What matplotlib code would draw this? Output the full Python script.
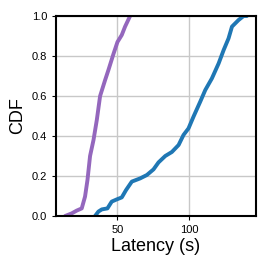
import matplotlib
matplotlib.use("Agg")
import matplotlib.pyplot as plt

plt.rcParams['font.family'] = ['Liberation Sans', 'DejaVu Sans']

purple_x = [13.5, 18.1, 21.6, 25.1, 27.4, 29.1, 30.9, 33.3, 35.6, 37.9, 41.4, 43.7, 47.2, 50.0, 53.0, 55.3, 58.8]
purple_y = [0.0, 0.013, 0.027, 0.038, 0.097, 0.18, 0.30, 0.38, 0.48, 0.60, 0.68, 0.73, 0.81, 0.87, 0.905, 0.947, 1.0]

blue_x = [34.4, 36.7, 39.1, 43.0, 46.0, 49.5, 53.0, 56.0, 60.0, 65.8, 70.5, 75.1, 78.6, 83.3, 87.9, 92.6, 96.0,
          99.5, 103.0, 107.7, 111.2, 115.8, 120.5, 124.0, 127.4, 129.8, 134.4, 137.9, 140.2]
blue_y = [0.0, 0.022, 0.033, 0.038, 0.072, 0.083, 0.093, 0.13, 0.172, 0.188, 0.205, 0.233, 0.268, 0.30, 0.32,
          0.355, 0.405, 0.438, 0.497, 0.572, 0.63, 0.688, 0.763, 0.83, 0.888, 0.947, 0.98, 1.0, 1.0]

fig = plt.figure(figsize=(2.68, 2.68), dpi=100)
ax = fig.add_axes([56/268, 52/268, 200/268, 200/268])
ax.plot(purple_x, purple_y, color='#9467bd', lw=2.8, solid_capstyle='round')
ax.plot(blue_x, blue_y, color='#1f77b4', lw=2.8, solid_capstyle='round')
ax.set_ylim(0, 1)
ax.set_xticks([50, 100])
ax.set_yticks([0, 0.2, 0.4, 0.6, 0.8, 1.0])
ax.grid(True, color='#c8c8c8', lw=1)
ax.set_axisbelow(True)
ax.tick_params(labelsize=8, length=3)
for s in ax.spines.values():
    s.set_linewidth(1.5)
    s.set_color('black')
ax.set_xlabel('Latency (s)', fontsize=13, labelpad=2)
ax.set_ylabel('CDF', fontsize=13, labelpad=4)
fig.savefig('out.png', dpi=100)
